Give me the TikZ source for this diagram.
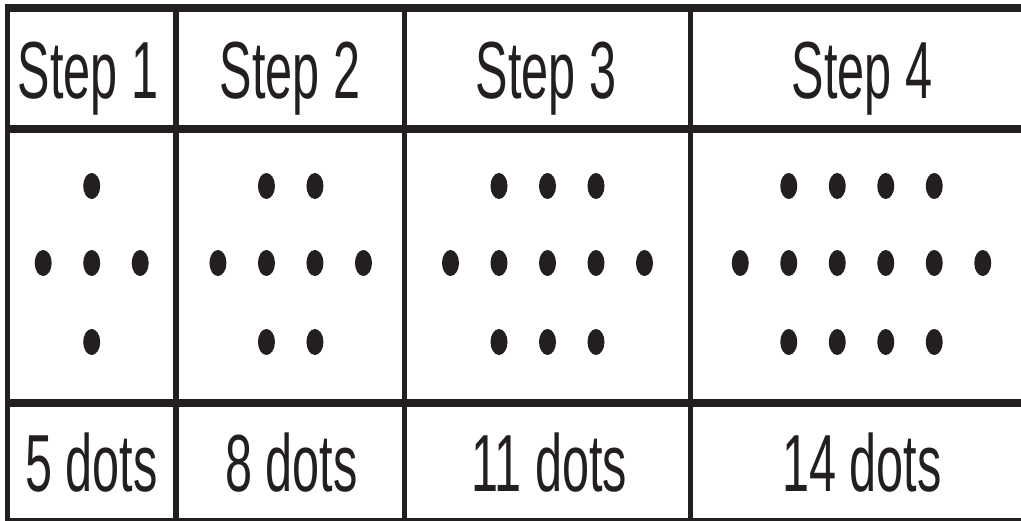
\documentclass[tikz,border=0pt]{standalone}
\usepackage{fontspec}
\setmainfont{Liberation Sans}[FakeStretch=0.6]
\definecolor{ink}{HTML}{231F20}
\begin{document}
\begin{tikzpicture}[x=1pt,y=-1pt,
  lbl/.style={anchor=base,inner sep=0pt,font=\fontsize{81}{81}\selectfont,text=ink},
  rule/.style={draw=ink,line cap=butt},
  dotmark/.style={fill=ink}]
\useasboundingbox (0,0) rectangle (1021,521);
\fill[white] (0,0) rectangle (1021,521);
% grid
\draw[rule,line width=8pt] (5,8) -- (1021,8);
\draw[rule,line width=8pt] (5,129) -- (1021,129);
\draw[rule,line width=8pt] (5,403) -- (1021,403);
\draw[rule,line width=3.5pt] (5,519.5) -- (1021,519.5);
\draw[rule,line width=5pt] (7.5,4) -- (7.5,521);
\draw[rule,line width=5.5pt] (176,4) -- (176,521);
\draw[rule,line width=5pt] (404.5,4) -- (404.5,521);
\draw[rule,line width=5pt] (690.5,4) -- (690.5,521);
% headers
\node[lbl] (h1) at (88,99) {Step 1};
\node[lbl] (h2) at (290,99) {Step 2};
\node[lbl] (h3) at (546,99) {Step 3};
\node[lbl] (h4) at (862,99) {Step 4};
% footers
\node[lbl] (f1) at (91.5,491) {5 dots};
\node[lbl] (f2) at (291.5,491) {8 dots};
\node[lbl] (f3) at (549,491) {11 dots};
\node[lbl] (f4) at (862,491) {14 dots};
% dots
\foreach \k/\c in {1/91.7,2/290.7,3/547.5,4/861.5}{
  \foreach \i in {1,...,\k}{
    \pgfmathsetmacro{\xx}{\c+(\i-(\k+1)/2)*48.5}
    \fill[dotmark] (\xx,186) ellipse [x radius=8.5pt, y radius=13pt];
    \fill[dotmark] (\xx,342) ellipse [x radius=8.5pt, y radius=13pt];
  }
  \pgfmathtruncatemacro{\m}{\k+2}
  \foreach \i in {1,...,\m}{
    \pgfmathsetmacro{\xx}{\c+(\i-(\m+1)/2)*48.5}
    \fill[dotmark] (\xx,263) ellipse [x radius=8.5pt, y radius=13pt];
  }
}
\end{tikzpicture}
\end{document}
